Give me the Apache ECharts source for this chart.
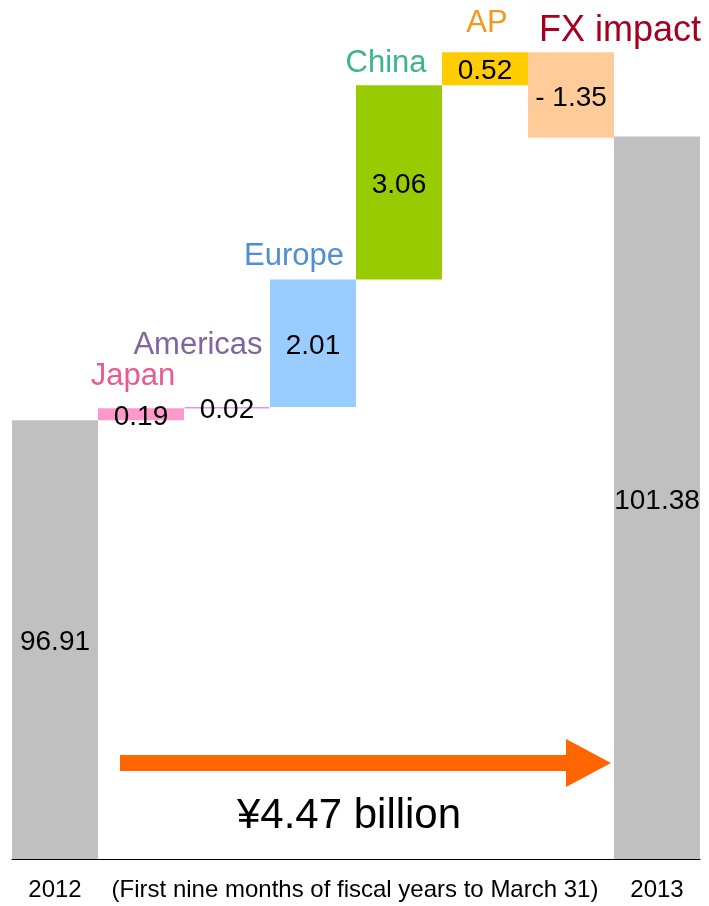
<!DOCTYPE html>
<html>
<head>
<meta charset="utf-8">
<script src="https://cdn.jsdelivr.net/npm/echarts@6/dist/echarts.min.js"></script>
<style>
html,body{margin:0;padding:0;background:#fff;}
#chart{width:709px;height:906px;}
</style>
</head>
<body>
<div id="chart"></div>
<script>
// ---- data ----
var categories = ["2012", "Japan", "Americas", "Europe", "China", "AP", "FX impact", "2013"];
var startValue = 96.91;          // 2012
var deltas = [0.19, 0.02, 2.01, 3.06, 0.52, -1.35]; // Japan..FX impact
var endValue = 101.38;           // 2013
var valueLabels = ["96.91", "0.19", "0.02", "2.01", "3.06", "0.52", "- 1.35", "101.38"];
var xTickLabels = ["2012", "", "", "", "", "", "", "2013"];
var caption = "(First nine months of fiscal years to March 31)";
var changeText = "\u00a54.47 billion";

// ---- styles ----
var barColors = ["#c0c0c0", "#ff99cc", "#cc99ff", "#99ccff", "#99cc00", "#ffcc00", "#ffcc99", "#c0c0c0"];
var nameColors = [null, "#ea5a91", "#8064a2", "#4f8fcf", "#3cb48c", "#f39a1e", "#a50021", null];
var nameOffsets = [null, [-8, -32], [-29, -62], [-19, -23], [-13, -22], [2, -29], [49, -21], null];
var nameSizes = [0, 31, 31, 31, 31, 31, 36, 0];
var FONT = "'Liberation Sans', Arial, Helvetica, sans-serif";

// ---- build waterfall ----
var baseData = [0], heightData = [startValue], topData = ['-'];
var running = startValue;
deltas.forEach(function (d) {
  var next = running + d;
  baseData.push(Math.min(running, next));
  heightData.push(Math.abs(d));
  topData.push(Math.max(running, next));
  running = next;
});
baseData.push(0); heightData.push(endValue); topData.push('-');

var chart = echarts.init(document.getElementById('chart'), null, {renderer: 'canvas'});
chart.setOption({
  animation: false,
  backgroundColor: '#ffffff',
  grid: {left: 12, right: 9, top: 2, bottom: 47},
  xAxis: {
    type: 'category',
    data: categories,
    axisLine: {show: true, lineStyle: {color: '#000', width: 1}},
    axisTick: {show: false},
    axisLabel: {
      interval: 0, margin: 19, fontSize: 24, color: '#000', fontFamily: FONT,
      formatter: function (v, i) { return xTickLabels[i]; }
    }
  },
  yAxis: {
    type: 'value', min: 90, max: 103.5,
    show: false, splitLine: {show: false}
  },
  series: [
    {
      type: 'bar', stack: 'w', barWidth: '100%', barCategoryGap: 0,
      itemStyle: {color: 'transparent'}, silent: true,
      data: baseData
    },
    {
      type: 'bar', stack: 'w', barWidth: '100%', barCategoryGap: 0,
      data: heightData.map(function (v, i) {
        var it = {color: barColors[i]};
        if (i === 2) { it.borderColor = barColors[i]; it.borderWidth = 1.5; }
        return {value: v, itemStyle: it};
      }),
      label: {
        show: true, position: 'inside', offset: [0, 3], color: '#000', fontSize: 28, fontFamily: FONT,
        formatter: function (p) { return valueLabels[p.dataIndex]; }
      }
    },
    {
      type: 'scatter', symbolSize: 2, silent: true,
      itemStyle: {color: 'rgba(0,0,0,0)', opacity: 1},
      data: topData.map(function (v, i) {
        if (v === '-') return '-';
        return {
          value: v,
          label: {
            show: true, position: 'inside', offset: nameOffsets[i],
            color: nameColors[i], fontSize: nameSizes[i], fontFamily: FONT,
            formatter: categories[i]
          }
        };
      })
    }
  ],
  graphic: [
    {
      type: 'polygon', silent: true,
      shape: {points: [[120, 755], [566, 755], [566, 739], [611, 763], [566, 787], [566, 771], [120, 771]]},
      style: {fill: '#ff6600'}
    },
    {
      type: 'text', silent: true,
      style: {text: changeText, x: 349, y: 816, textAlign: 'center', textVerticalAlign: 'middle',
        font: '42px ' + FONT, fill: '#000'}
    },
    {
      type: 'text', silent: true,
      style: {text: caption, x: 355, y: 890, textAlign: 'center', textVerticalAlign: 'middle',
        font: '24px ' + FONT, fill: '#000'}
    }
  ]
});
</script>
</body>
</html>
